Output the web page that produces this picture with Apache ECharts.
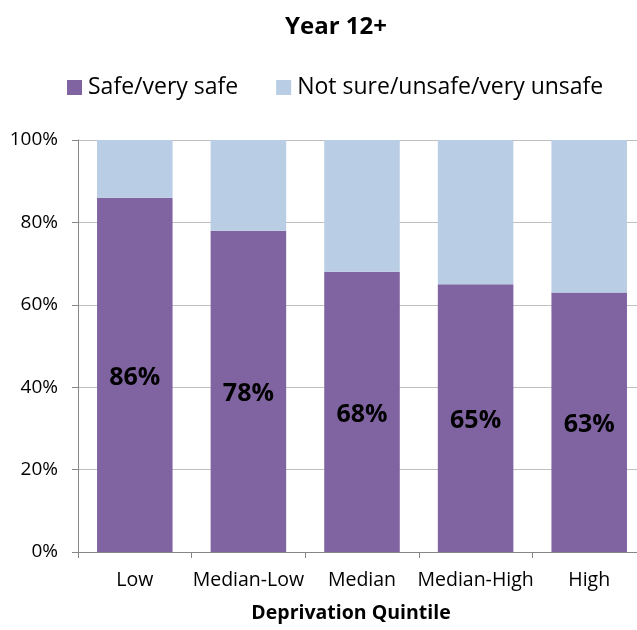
<!DOCTYPE html>
<html><head><meta charset="utf-8">
<script src="https://cdn.jsdelivr.net/npm/echarts@6/dist/echarts.min.js"></script>
<style>html,body{margin:0;padding:0;background:#fff;overflow:hidden}#c{width:646px;height:630px}</style>
</head><body><div id="c"></div>
<script>
var categories = ['Low', 'Median-Low', 'Median', 'Median-High', 'High'];
var safe = [86, 78, 68, 65, 63];
var notSafe = [14, 22, 32, 35, 37];
var yTicks = [0, 20, 40, 60, 80, 100];
var seriesNames = ['Safe/very safe', 'Not sure/unsafe/very unsafe'];

var font = 'Open Sans';
var chart = echarts.init(document.getElementById('c'), null, {renderer: 'canvas'});
chart.setOption({
  animation: false,
  textStyle: {fontFamily: font},
  title: [
    {text: 'Year 12+', left: 331, top: 10, textAlign: 'center',
     textStyle: {fontSize: 24, fontWeight: 'bold', color: '#000', fontFamily: font}},
    {text: 'Deprivation Quintile', left: 346, top: 598, textAlign: 'center',
     textStyle: {fontSize: 19.5, fontWeight: 'bold', color: '#000', fontFamily: font}}
  ],
  legend: {
    top: 71, left: 62, itemWidth: 15, itemHeight: 15, itemGap: 38,
    icon: 'rect',
    textStyle: {fontSize: 23, color: '#000', fontFamily: font, padding: [0, 0, 0, 1]},
    data: seriesNames
  },
  grid: {left: 78, top: 140, right: 0, height: 412, containLabel: false},
  xAxis: {
    type: 'category', data: categories,
    axisLine: {lineStyle: {color: '#868686', width: 1}},
    axisTick: {show: true, length: 6, alignWithLabel: false, lineStyle: {color: '#868686'}},
    axisLabel: {interval: 0, fontSize: 19.5, color: '#000', margin: 18, fontFamily: font}
  },
  yAxis: {
    type: 'value', min: 0, max: 100, interval: 20,
    axisLine: {show: true, lineStyle: {color: '#868686', width: 1}},
    axisTick: {show: true, length: 6, lineStyle: {color: '#868686'}},
    splitLine: {show: true, lineStyle: {color: '#bfbfbf', width: 1}},
    axisLabel: {fontSize: 19, color: '#000', margin: 20, fontFamily: font,
      formatter: function (v) { return yTicks.indexOf(v) >= 0 ? v + '%' : ''; }}
  },
  series: [
    {name: seriesNames[0], type: 'bar', stack: 's', data: safe, barWidth: '66.5%',
     itemStyle: {color: '#8064a2'},
     label: {show: true, position: 'inside', offset: [0, 3], formatter: '{c}%', fontSize: 25, fontWeight: 'bold', color: '#000', fontFamily: font}},
    {name: seriesNames[1], type: 'bar', stack: 's', data: notSafe, barWidth: '66.5%',
     itemStyle: {color: '#b9cde5'}}
  ]
});
</script></body></html>
